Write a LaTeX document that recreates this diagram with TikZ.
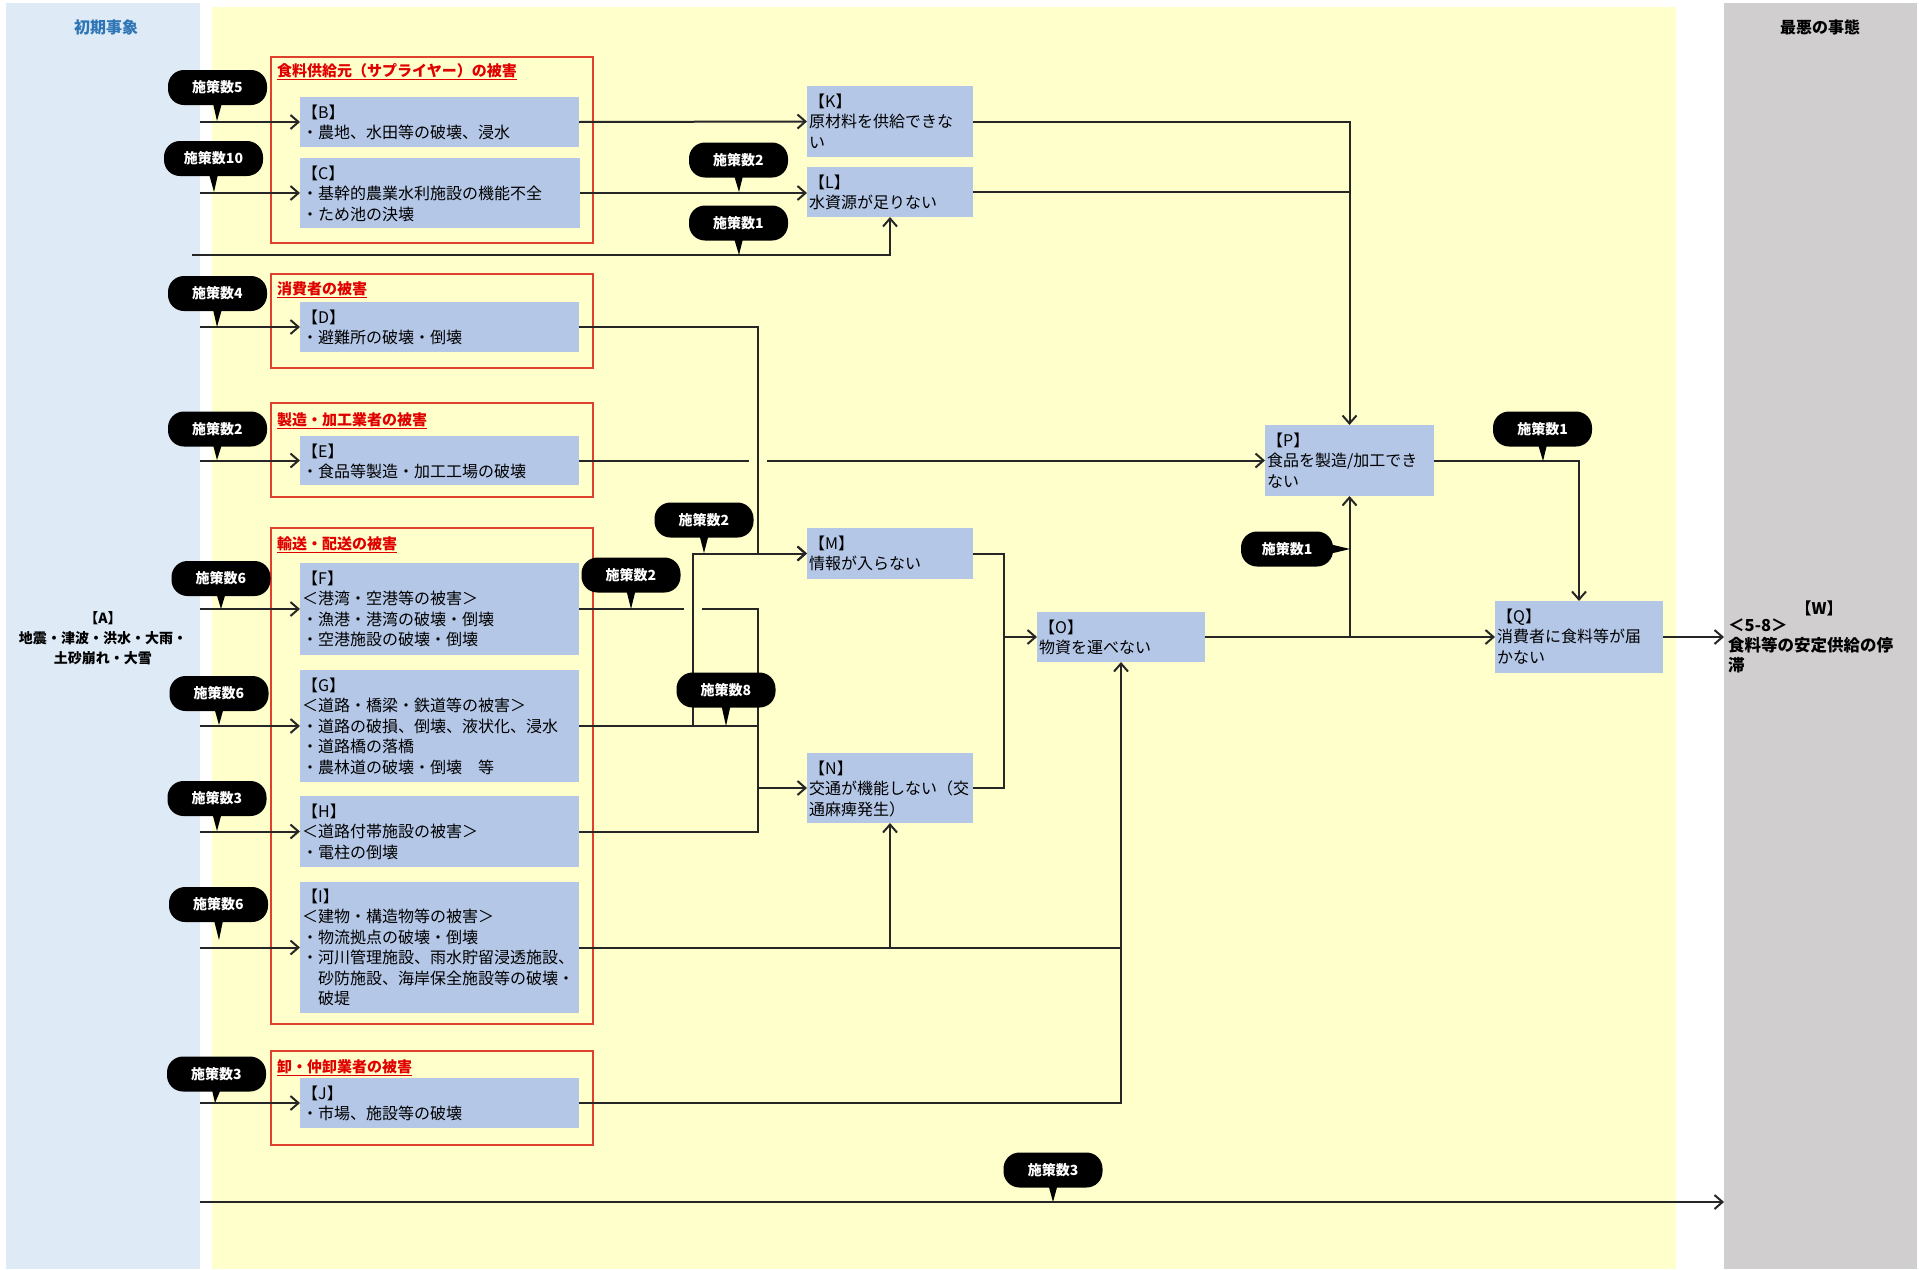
\documentclass[tikz,border=0pt]{standalone}
\usepackage{fontspec}
\setmainfont{Noto Sans CJK JP}
\usetikzlibrary{arrows.meta}
\definecolor{panelblue}{HTML}{DEEAF6}
\definecolor{panelyellow}{HTML}{FFFFCC}
\definecolor{panelgray}{HTML}{D0CECE}
\definecolor{boxblue}{HTML}{B4C7E7}
\definecolor{boxred}{HTML}{E0402E}
\definecolor{titlered}{HTML}{E00000}
\definecolor{headblue}{HTML}{2E75B6}
\newcommand\mybubble[6]{%
  \node[bubble] (#1) at (#2,#3) {#4};
  \fill[black] ([xshift=-5pt,yshift=4pt]#1.south) -- (#5,#6) -- ([xshift=5pt,yshift=4pt]#1.south) -- cycle;}
\begin{document}
\begin{tikzpicture}[x=1pt,y=-1pt,
  conn/.style={line width=2pt, draw=black!85},
  arr/.style={conn, -{Straight Barb[length=8pt,width=14pt]}},
  panel/.style={anchor=north west, inner sep=0pt, outer sep=0pt, draw=none},
  dbox/.style={fill=boxblue, draw=none, anchor=north west, inner sep=0pt, outer sep=0pt},
  dtext/.style={anchor=north west, align=left, inner sep=0pt, font=\fontsize{16}{20.5}\selectfont},
  grp/.style={draw=boxred, line width=1.6pt},
  gtitle/.style={anchor=west, inner sep=0pt, text=titlered, font=\fontsize{15}{18}\selectfont\bfseries},
  bubble/.style={fill=black, text=white, rounded corners=16pt, minimum width=99pt, minimum height=35pt, inner sep=0pt, font=\fontsize{14}{16}\selectfont\bfseries},
]
\fill[white] (0,0) rectangle (1919,1269);
\useasboundingbox (0,0) rectangle (1919,1269);

% panels
\node[panel, fill=panelblue, minimum width=194pt, minimum height=1266pt] (apanel) at (6,3) {};
\node[panel, fill=panelyellow, minimum width=1464pt, minimum height=1262pt] (ypanel) at (212,7) {};
\node[panel, fill=panelgray, minimum width=193pt, minimum height=1266pt] (wpanel) at (1724,3) {};
\node[text=headblue, font=\fontsize{16}{18}\selectfont\bfseries] (h1) at (106,27) {初期事象};
\node[font=\fontsize{16}{18}\selectfont\bfseries] (h2) at (1820,27) {最悪の事態};

% A and W
\node[align=center, font=\fontsize{14}{20}\selectfont\bfseries] (A) at (103,638) {【A】\\地震・津波・洪水・大雨・\\土砂崩れ・大雪};
\node[font=\fontsize{16}{20}\selectfont\bfseries] (Wh) at (1819,608) {【W】};
\node[anchor=north west, align=left, inner sep=0pt, font=\fontsize{16.5}{20}\selectfont\bfseries] (W) at (1728,619) {＜5-8＞\\食料等の安定供給の停\\滞};

% group boxes
\draw[grp] (271,57) rectangle (593,243);
\node[gtitle] (g1) at (277,72) {\underline{食料供給元（サプライヤー）の被害}};
\draw[grp] (271,274) rectangle (593,368);
\node[gtitle] (g2) at (277,290) {\underline{消費者の被害}};
\draw[grp] (271,403) rectangle (593,497);
\node[gtitle] (g3) at (277,421) {\underline{製造・加工業者の被害}};
\draw[grp] (271,528) rectangle (593,1024);
\node[gtitle] (g4) at (277,545) {\underline{輸送・配送の被害}};
\draw[grp] (271,1051) rectangle (593,1145);
\node[gtitle] (g5) at (277,1068) {\underline{卸・仲卸業者の被害}};

% blue boxes
\node[dbox, minimum width=279pt, minimum height=50pt] (B) at (300,97) {};
\node[dtext] (Bt) at ([shift={(2pt,-7.5pt)}]B.north west) {【B】\\・農地、水田等の破壊、浸水};
\node[dbox, minimum width=280pt, minimum height=70pt] (C) at (300,158) {};
\node[dtext] (Ct) at ([shift={(2pt,-7.5pt)}]C.north west) {【C】\\・基幹的農業水利施設の機能不全\\・ため池の決壊};
\node[dbox, minimum width=279pt, minimum height=50pt] (D) at (300,302) {};
\node[dtext] (Dt) at ([shift={(2pt,-7.5pt)}]D.north west) {【D】\\・避難所の破壊・倒壊};
\node[dbox, minimum width=279pt, minimum height=49pt] (E) at (300,436) {};
\node[dtext] (Et) at ([shift={(2pt,-7.5pt)}]E.north west) {【E】\\・食品等製造・加工工場の破壊};
\node[dbox, minimum width=279pt, minimum height=92pt] (F) at (300,563) {};
\node[dtext] (Ft) at ([shift={(2pt,-7.5pt)}]F.north west) {【F】\\＜港湾・空港等の被害＞\\・漁港・港湾の破壊・倒壊\\・空港施設の破壊・倒壊};
\node[dbox, minimum width=279pt, minimum height=112pt] (G) at (300,670) {};
\node[dtext] (Gt) at ([shift={(2pt,-7.5pt)}]G.north west) {【G】\\＜道路・橋梁・鉄道等の被害＞\\・道路の破損、倒壊、液状化、浸水\\・道路橋の落橋\\・農林道の破壊・倒壊　等};
\node[dbox, minimum width=279pt, minimum height=71pt] (H) at (300,796) {};
\node[dtext] (Ht) at ([shift={(2pt,-7.5pt)}]H.north west) {【H】\\＜道路付帯施設の被害＞\\・電柱の倒壊};
\node[dbox, minimum width=279pt, minimum height=131pt] (I) at (300,882) {};
\node[dtext] (It) at ([shift={(2pt,-6.5pt)}]I.north west) {【I】\\＜建物・構造物等の被害＞\\・物流拠点の破壊・倒壊\\・河川管理施設、雨水貯留浸透施設、\\　砂防施設、海岸保全施設等の破壊・\\　破堤};
\node[dbox, minimum width=279pt, minimum height=50pt] (J) at (300,1078) {};
\node[dtext] (Jt) at ([shift={(2pt,-7.5pt)}]J.north west) {【J】\\・市場、施設等の破壊};
\node[dbox, minimum width=166pt, minimum height=71pt] (K) at (807,86) {};
\node[dtext] (Kt) at ([shift={(2pt,-7.5pt)}]K.north west) {【K】\\原材料を供給できな\\い};
\node[dbox, minimum width=166pt, minimum height=50pt] (L) at (807,167) {};
\node[dtext] (Lt) at ([shift={(2pt,-7.5pt)}]L.north west) {【L】\\水資源が足りない};
\node[dbox, minimum width=166pt, minimum height=51pt] (M) at (807,528) {};
\node[dtext] (Mt) at ([shift={(2pt,-7.5pt)}]M.north west) {【M】\\情報が入らない};
\node[dbox, minimum width=166pt, minimum height=70pt] (N) at (807,753) {};
\node[dtext] (Nt) at ([shift={(2pt,-7.5pt)}]N.north west) {【N】\\交通が機能しない（交\\通麻痺発生）};
\node[dbox, minimum width=168pt, minimum height=50pt] (O) at (1037,612) {};
\node[dtext] (Ot) at ([shift={(2pt,-7.5pt)}]O.north west) {【O】\\物資を運べない};
\node[dbox, minimum width=169pt, minimum height=71pt] (P) at (1265,425) {};
\node[dtext] (Pt) at ([shift={(2pt,-7.5pt)}]P.north west) {【P】\\食品を製造/加工でき\\ない};
\node[dbox, minimum width=168pt, minimum height=72pt] (Q) at (1495,601) {};
\node[dtext] (Qt) at ([shift={(2pt,-7.5pt)}]Q.north west) {【Q】\\消費者に食料等が届\\かない};

% connectors from initial events
\draw[arr] (apanel.east |- B.west) -- (B.west);
\draw[arr] (apanel.east |- C.west) -- (C.west);
\coordinate (s0) at (192,255);
\draw[arr] (s0) -| (L.south);
\draw[arr] (apanel.east |- D.west) -- (D.west);
\draw[arr] (apanel.east |- E.west) -- (E.west);
\draw[arr] (apanel.east |- F.west) -- (F.west);
\draw[arr] (apanel.east |- G.west) -- (G.west);
\draw[arr] (apanel.east |- H.west) -- (H.west);
\draw[arr] (apanel.east |- I.west) -- (I.west);
\draw[arr] (apanel.east |- J.west) -- (J.west);
\coordinate (s1) at (200,1202);
\draw[arr] (s1) -- (s1 -| wpanel.west);

% middle connectors
\draw[arr] (B.east) -- (K.west);
\draw[arr] (C.east) -- (C.east -| L.west);
\draw[arr] (K.east) -| (P.north);
\draw[conn] (L.east) -- (L.east -| P.north);
\draw[arr] (D.east) -| (758,553.5) -- (M.west);
\draw[arr] (E.east) -- (749,460.5) (767,460.5) -- (P.west);
\draw[arr] (F.east) -- (684,609) (702,609) -- (758,609) |- (N.west);
\draw[conn] (G.east) -- (758,726);
\draw[arr] (693,726) |- (M.west);
\draw[conn] (H.east) -| (758,788);
\draw[arr] (I.east) -| (O.south);
\draw[arr] (N.south |- I.east) -- (N.south);
\draw[conn] (J.east) -| (O.south |- I.east);
\draw[conn] (M.east) -| (1004,637);
\draw[conn] (N.east) -| (1004,637);
\draw[arr] (1004,637) -- (O.west);
\draw[arr] (O.east) -- (O.east -| Q.west);
\draw[arr] (P.south |- O.east) -- (P.south);
\draw[arr] (P.east) -| (Q.north);
\draw[arr] (Q.east) -- (Q.east -| wpanel.west);

% bubbles
\mybubble{b1}{217.5}{87.5}{施策数5}{217}{121}
\mybubble{b2}{213.5}{158.5}{施策数10}{214}{192}
\mybubble{b3}{217.5}{293.5}{施策数4}{217}{327}
\mybubble{b4}{217.5}{429}{施策数2}{217}{460}
\mybubble{b5}{221}{578.5}{施策数6}{221}{609}
\mybubble{b6}{219}{693.5}{施策数6}{219}{725}
\mybubble{b7}{217}{798.5}{施策数3}{217}{831}
\mybubble{b8}{218.5}{904.5}{施策数6}{219}{940}
\mybubble{b9}{216.5}{1074}{施策数3}{215}{1103}
\mybubble{b10}{738.5}{160}{施策数2}{739}{192}
\mybubble{b11}{738.5}{223}{施策数1}{739}{255}
\mybubble{b12}{704}{520}{施策数2}{704}{553}
\mybubble{b13}{631}{575}{施策数2}{631}{609}
\mybubble{b14}{726}{690}{施策数8}{726}{726}
\mybubble{b15}{1542.5}{429}{施策数1}{1543}{461}
\mybubble{b16}{1053}{1170}{施策数3}{1053}{1202}
\node[bubble, minimum width=92pt] (b17) at (1287,549) {施策数1};
\fill[black] ([xshift=-4pt,yshift=5pt]b17.east) -- (1350,549) -- ([xshift=-4pt,yshift=-5pt]b17.east) -- cycle;
\end{tikzpicture}
\end{document}
